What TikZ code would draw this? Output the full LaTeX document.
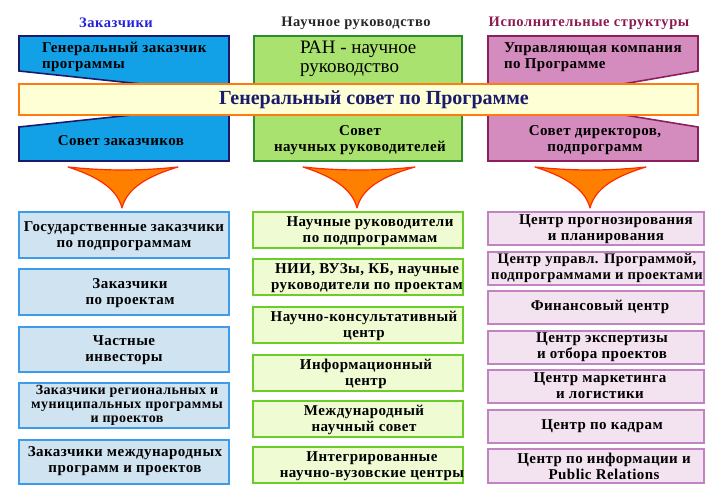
\documentclass[tikz,border=0pt]{standalone}
\usepackage{fontspec}
\setmainfont{Liberation Serif}
\newfontfamily\boxfont[LetterSpace=3]{Liberation Serif}
\newfontfamily\titlefont[LetterSpace=4]{Liberation Serif}
\definecolor{topblue}{HTML}{12A0E6}
\definecolor{navy}{HTML}{1B1B6E}
\definecolor{topgreen}{HTML}{A9E26F}
\definecolor{dkgreen}{HTML}{2E8B2E}
\definecolor{toppink}{HTML}{D48BBE}
\definecolor{dkpink}{HTML}{8C1F5C}
\definecolor{banfill}{HTML}{FFFFD6}
\definecolor{banline}{HTML}{FF7A10}
\definecolor{arrfill}{HTML}{FF8000}
\definecolor{arrline}{HTML}{FF2A00}
\definecolor{lbfill}{HTML}{CFE3F1}
\definecolor{lbline}{HTML}{3C9BEA}
\definecolor{lgfill}{HTML}{EFFBD2}
\definecolor{lgline}{HTML}{6CCC2A}
\definecolor{lpfill}{HTML}{F3E2EF}
\definecolor{lpline}{HTML}{C283C2}
\definecolor{ttblue}{HTML}{2222DD}
\definecolor{ttpurple}{HTML}{8C1A50}
\tikzset{
  base/.style={inner sep=0pt, outer sep=0pt},
  bluebox/.style={base, draw=lbline, fill=lbfill, line width=1.6pt, anchor=north west},
  greenbox/.style={base, draw=lgline, fill=lgfill, line width=1.6pt, anchor=north west},
  pinkbox/.style={base, draw=lpline, fill=lpfill, line width=1.6pt, anchor=north west},
  lbl/.style={base, align=center, font=\boxfont\fontsize{15}{16}\selectfont\bfseries},
  toptxt/.style={base, align=left, anchor=west, font=\boxfont\fontsize{15}{16}\selectfont\bfseries},
  title/.style={base, font=\titlefont\fontsize{14.5}{16}\selectfont\bfseries},
  arrowshape/.style={fill=arrfill, draw=arrline, line width=1.2pt, line join=round}
}
\newcommand\mkbox[6]{\node[#2, minimum width=#5-#3, minimum height=#6-#4] (#1) at (#3,#4) {};}
\begin{document}
\begin{tikzpicture}[x=1pt,y=-1pt]
\useasboundingbox (0,0) rectangle (720,502);
% titles
\node[title, text=ttblue] (t1) at (116,23) {Заказчики};
\node[title, text=black!85] (t2) at (356,23) {Научное руководство};
\node[title, text=ttpurple] (t3) at (589,23) {Исполнительные структуры};
% top shapes
\draw[fill=topblue, draw=navy, line width=1.6pt, line join=miter]
  (19,36) -- (229,36) -- (229,161) -- (19,161) -- (19,127) -- (160,112) -- (160,86) -- (19,71) -- cycle;
\draw[fill=topgreen, draw=dkgreen, line width=1.6pt] (254,36) rectangle (462,161);
\draw[fill=toppink, draw=dkpink, line width=1.6pt, line join=miter]
  (488,36) -- (698,36) -- (698,71) -- (600,88) -- (600,111) -- (698,127) -- (698,161) -- (488,161) -- cycle;
% banner
\node[base, draw=banline, fill=banfill, line width=2.4pt, anchor=north west, minimum width=679, minimum height=31] (ban) at (19,84) {};
\node[base, text=navy, font=\fontsize{20}{22}\selectfont\bfseries] (bant) at (374,100) {Генеральный совет по Программе};
% top box texts
\node[toptxt] (a1) at (42,57) {Генеральный заказчик\\программы};
\node[lbl] (a2) at (121,141) {Совет заказчиков};
\node[base, align=left, anchor=west, font=\fontsize{19}{19.5}\selectfont] (b1) at (300,59) {РАН - научное\\руководство};
\node[lbl] (b2) at (360,140) {Совет\\научных руководителей};
\node[toptxt] (c1) at (504,57) {Управляющая компания\\по Программе};
\node[lbl] (c2) at (595,140) {Совет директоров,\\подпрограмм};
% arrows
\draw[arrowshape] (68,167) .. controls (96,176) and (117,188) .. (122,208) .. controls (127,188) and (148,176) .. (178,167) .. controls (140,171) and (106,171) .. (68,167) -- cycle;
\draw[arrowshape] (303,167) .. controls (331,176) and (352,188) .. (357,208) .. controls (362,188) and (383,176) .. (415,167) .. controls (377,171) and (341,171) .. (303,167) -- cycle;
\draw[arrowshape] (535,167) .. controls (563,176) and (585,188) .. (590,208) .. controls (595,188) and (616,176) .. (646,167) .. controls (608,171) and (573,171) .. (535,167) -- cycle;
% left column
\mkbox{l1}{bluebox}{19}{212}{229}{258}
\mkbox{l2}{bluebox}{19}{269}{229}{315}
\mkbox{l3}{bluebox}{19}{327}{229}{372}
\mkbox{l4}{bluebox}{19}{383}{229}{428}
\mkbox{l5}{bluebox}{19}{440}{229}{484}
\node[lbl] (l1t) at (124,236) {Государственные заказчики\\по подпрограммам};
\node[lbl] (l2t) at (130,293) {Заказчики\\по проектам};
\node[lbl] (l3t) at (124,350) {Частные\\инвесторы};
\node[lbl, font=\boxfont\fontsize{14}{13.8}\selectfont\bfseries] (l4t) at (127,405.5) {Заказчики региональных и\\муниципальных программы\\и проектов};
\node[lbl] (l5t) at (125,461) {Заказчики международных\\программ и проектов};
% middle column
\mkbox{m1}{greenbox}{253}{212}{463}{248}
\mkbox{m2}{greenbox}{253}{259}{463}{295}
\mkbox{m3}{greenbox}{253}{307}{463}{343}
\mkbox{m4}{greenbox}{253}{355}{463}{391}
\mkbox{m5}{greenbox}{253}{401}{463}{437}
\mkbox{m6}{greenbox}{253}{447}{463}{483}
\node[lbl] (m1t) at (370,231) {Научные руководители\\по подпрограммам};
\node[lbl] (m2t) at (367,278) {НИИ, ВУЗы, КБ, научные\\руководители по проектам};
\node[lbl] (m3t) at (364,326) {Научно-консультативный\\центр};
\node[lbl] (m4t) at (366,374) {Информационный\\центр};
\node[lbl] (m5t) at (364,420) {Международный\\научный совет};
\node[lbl] (m6t) at (372,466) {Интегрированные\\научно-вузовские центры};
% right column
\mkbox{r1}{pinkbox}{488}{212}{704}{245}
\mkbox{r2}{pinkbox}{488}{252}{704}{285}
\mkbox{r3}{pinkbox}{488}{291}{704}{324}
\mkbox{r4}{pinkbox}{488}{331}{704}{364}
\mkbox{r5}{pinkbox}{488}{370}{704}{403}
\mkbox{r6}{pinkbox}{488}{410}{704}{443}
\mkbox{r7}{pinkbox}{488}{449}{704}{483}
\node[lbl] (r1t) at (606,229) {Центр прогнозирования\\и планирования};
\node[lbl, font=\boxfont\fontsize{14.6}{16}\selectfont\bfseries] (r2t) at (597,268) {Центр управл. Программой,\\подпрограммами и проектами};
\node[lbl] (r3t) at (600,307) {Финансовый центр};
\node[lbl] (r4t) at (602,347) {Центр экспертизы\\и отбора проектов};
\node[lbl] (r5t) at (600,386) {Центр маркетинга\\и логистики};
\node[lbl] (r6t) at (602,426) {Центр по кадрам};
\node[lbl] (r7t) at (604,466) {Центр по информации и\\Public Relations};
\end{tikzpicture}
\end{document}
